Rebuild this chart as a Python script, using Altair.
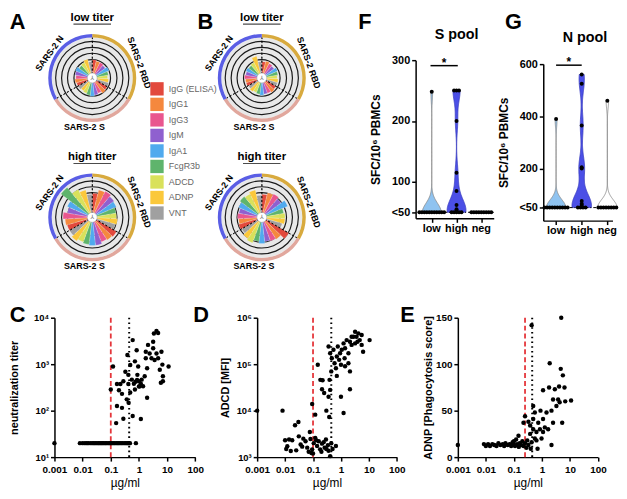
import altair as alt
import pandas as pd

FONT = "Liberation Sans"

# ---------------- A / B : radial plots ----------------
measures = ["IgG (ELISA)", "IgG1", "IgG3", "IgM", "IgA1", "FcgR3b", "ADCD", "ADNP", "VNT"]
measure_colors = ["#e2493d", "#f5883e", "#e9568e", "#8f60cf", "#50aaee",
                  "#5fb46c", "#d9e15b", "#fbc83b", "#a0a0a0"]
antigens = ["SARS-2 RBD", "SARS-2 S", "SARS-2 N"]
antigen_colors = ["#d8aa3e", "#e1a79d", "#5a5ee5"]
panels = ["A", "B"]
titers = ["low", "high"]
titer_titles = ["low titer", "high titer"]

# bar lengths per sector (RBD x9, S x9, N x9), legend order inside each antigen
roseA_low = [14, 13, 13, 12, 14, 12, 11, 12, 13,
             13, 14, 12, 13, 14, 13, 12, 11, 12,
             12, 13, 12, 13, 14, 12, 13, 15, 12]
roseA_high = [20, 24, 25, 23, 22, 20, 20, 21, 20,
              24, 23, 22, 24, 24, 23, 22, 24, 22,
              22, 23, 25, 21, 23, 35, 27, 24, 19]
roseB_low = [12, 13, 12, 11, 13, 12, 11, 12, 12,
             12, 13, 12, 12, 13, 12, 11, 12, 11,
             12, 12, 13, 12, 13, 12, 13, 18, 12]
roseB_high = [19, 21, 22, 20, 24, 18, 19, 19, 17,
              27, 22, 21, 20, 22, 20, 23, 21, 19,
              20, 19, 20, 19, 21, 23, 22, 24, 18]

# ---------------- F / G : ELISpot ----------------
pool_groups = ["low", "high", "neg"]
F_low = [248, 50, 50, 50, 50, 50, 50, 50, 50, 50, 50, 50]
F_high = [250, 250, 250, 200, 115, 85, 62, 55, 52, 50, 50, 50, 50, 50]
F_neg = [50, 50, 50, 50, 50, 50, 50, 50, 50]
G_low = [390, 50, 50, 50, 50, 50, 50, 50, 50, 50, 50]
G_high = [560, 525, 365, 205, 200, 75, 65, 60, 50, 50, 50, 50]
G_neg = [460, 50, 50, 50, 50, 50, 50, 50, 50]

# ---------------- C / D / E : scatter ----------------
C_floor_x = [0.001, 0.008, 0.01, 0.012, 0.014, 0.016, 0.019, 0.022, 0.025, 0.028, 0.032,
             0.036, 0.04, 0.045, 0.05, 0.056, 0.063, 0.07, 0.08, 0.09, 0.1, 0.11, 0.125,
             0.14, 0.16, 0.18, 0.2, 0.23, 0.26, 0.3, 0.34, 0.38, 0.42, 0.48, 0.78]
C_floor_y = 20
C_cloud = [(0.12, 890), (0.1, 285), (0.166, 375), (0.22, 375), (0.28, 430), (0.195, 275),
           (0.25, 230), (0.166, 126), (0.25, 115), (0.155, 54), (0.28, 67), (0.33, 690),
           (0.39, 1580), (0.42, 375), (0.37, 175), (0.43, 148), (0.49, 245), (0.56, 465),
           (0.6, 3300), (0.72, 1150), (0.72, 285), (0.6, 77), (0.83, 2000), (0.94, 890),
           (0.88, 590), (1.0, 430), (1.07, 335), (1.25, 465), (1.4, 335), (1.17, 66),
           (1.6, 550), (1.75, 1340), (1.95, 815), (2.1, 2600), (1.75, 1860), (2.4, 1700),
           (2.8, 1340), (1.95, 190), (3.2, 2200), (3.6, 1230), (3.4, 4570), (4.2, 5200),
           (4.8, 4700), (3.2, 3040), (4.2, 1700), (4.8, 1340), (5.5, 760), (6.3, 1860),
           (6.8, 980), (7.1, 550), (6.0, 400), (7.1, 430), (11.3, 890), (0.66, 380),
           (0.76, 420), (0.86, 460), (1.0, 330), (1.17, 380), (0.42, 590), (0.49, 960)]
D_pts = [(0.001, 10000), (0.0081, 10000), (0.0227, 4850), (0.03, 5700), (0.077, 3470),
         (0.0139, 2400), (0.012, 1720), (0.016, 1350), (0.018, 2300), (0.031, 2800),
         (0.036, 1870), (0.041, 1680), (0.054, 2200), (0.062, 1600), (0.081, 2450),
         (0.093, 1470), (0.106, 2000), (0.088, 1230), (0.12, 2600), (0.14, 1730),
         (0.16, 2200), (0.18, 1470), (0.21, 1950), (0.26, 1600), (0.29, 2400), (0.34, 1800),
         (0.41, 1050), (0.66, 1730), (0.36, 1370), (0.01, 2300), (0.011, 1500), (0.025, 1400),
         (0.045, 2500), (0.07, 1300), (0.1, 1200), (0.13, 2300), (0.2, 1300), (0.24, 2100),
         (0.3, 1500), (0.45, 2000), (0.5, 1500),
         (0.093, 13900), (0.148, 97000), (0.12, 8200), (0.183, 46000), (0.22, 45000),
         (0.21, 29000), (0.25, 24000), (0.3, 10000), (0.39, 46000), (0.41, 28000),
         (0.36, 20000), (0.45, 70000), (0.71, 56000), (1.0, 20000), (1.24, 8900),
         (2.1, 70000), (2.1, 29000), (0.38, 7300),
         (0.36, 240000), (0.41, 172000), (0.47, 134000), (0.54, 204000), (0.59, 105000),
         (0.66, 82000), (0.71, 146000), (0.77, 240000), (0.86, 124000), (0.93, 172000),
         (1.0, 97000), (1.07, 204000), (1.24, 280000), (1.35, 134000), (1.4, 220000),
         (1.6, 330000), (1.85, 172000), (2.1, 305000), (2.4, 260000), (2.8, 390000),
         (3.2, 500000), (3.6, 390000), (3.9, 305000), (4.2, 460000), (4.7, 330000),
         (5.5, 260000), (6.2, 186000), (5.5, 425000), (10.6, 330000), (1.4, 90000),
         (1.85, 105000), (2.4, 390000), (3.2, 280000)]
E_pts = [(0.001, 13), (0.0085, 14), (0.01, 12), (0.012, 14), (0.014, 12), (0.017, 14),
         (0.02, 13), (0.024, 12), (0.028, 15), (0.033, 13), (0.04, 14), (0.045, 12),
         (0.05, 15), (0.06, 13), (0.07, 14), (0.08, 12), (0.09, 16), (0.1, 13), (0.1, 17),
         (0.11, 12), (0.12, 19), (0.13, 14), (0.146, 23), (0.15, 11), (0.16, 15),
         (0.18, 13), (0.2, 17), (0.22, 37), (0.22, 12), (0.25, 44), (0.25, 15), (0.28, 10),
         (0.3, 18), (0.33, 38), (0.33, 13), (0.38, 34), (0.38, 25), (0.4, 9), (0.43, 142),
         (0.43, 16), (0.49, 55), (0.49, 41), (0.49, 30), (0.56, 48), (0.56, 20), (0.64, 27),
         (0.64, 18), (0.7, 9), (0.74, 37), (0.85, 30), (0.89, 50), (0.97, 20), (1.1, 41),
         (1.1, 72), (1.1, 27), (1.27, 32), (1.46, 48), (1.67, 30), (1.8, 75), (1.9, 101),
         (2.2, 50), (2.2, 13), (2.5, 37), (2.5, 62), (2.9, 73), (3.3, 55), (3.8, 62),
         (4.1, 76), (4.3, 59), (4.7, 95), (4.9, 150), (5.3, 37), (5.6, 88), (6.4, 75),
         (6.8, 60), (11.0, 61)]

# ======================================================================
one = pd.DataFrame({"k": [0]})
COL_W = [204.4, 202.6, 156.4]   # grid column widths shared by both rows

# ---------- radial view ----------
xs_R = alt.Scale(type="point", domain=panels, range=[38.2, 209.7], padding=0)
ys_R = alt.Scale(type="point", domain=titers, range=[18, 159], padding=0)
ts_R = alt.Scale(type="linear", domain=[0, 27], range=[0, 6.283185307179586], zero=False, nice=False)
rs_R = alt.Scale(type="linear", domain=[0, 40], range=[4.5, 44.5], zero=False, nice=False)


def rpos():
    return {"x": alt.X("panel:N", scale=xs_R, axis=None),
            "y": alt.Y("titer:N", scale=ys_R, axis=None)}


def rth(f0, f1):
    return {"theta": alt.Theta(f0, type="quantitative", scale=ts_R, stack=None),
            "theta2": alt.Theta2(f1)}


rose_sets = {("A", "low"): roseA_low, ("A", "high"): roseA_high,
             ("B", "low"): roseB_low, ("B", "high"): roseB_high}
bar_rows = []
for (p, t), vals in rose_sets.items():
    for k, v in enumerate(vals):
        bar_rows.append({"panel": p, "titer": t, "measure": measures[k % 9],
                         "antigen": antigens[k // 9], "t0": k, "t1": k + 1, "v": v})
bars_df = pd.DataFrame(bar_rows)

frame_df = pd.DataFrame([{"panel": p, "titer": t, "f0": 0, "f1": 27, "ttl": tt}
                         for p in panels for t, tt in zip(titers, titer_titles)])
bound_df = pd.DataFrame([{"panel": p, "titer": t, "b0": ai * 9}
                         for p in panels for t in titers for ai in range(3)])

layers = []
layers.append(alt.Chart(frame_df).mark_arc(radius=41, radius2=0, color="#e8e8e8")
              .encode(**rpos(), **rth("f0", "f1")))
for r in [18.5, 25, 31, 37]:
    layers.append(alt.Chart(frame_df).mark_arc(radius=r + 0.6, radius2=r - 0.6, color="#1a1a1a")
                  .encode(**rpos(), **rth("f0", "f1")))
legend = alt.Legend(orient="none", legendX=96.7, legendY=22, title=None, symbolType="square",
                    symbolSize=182, symbolStrokeWidth=0, symbolOpacity=1, labelFont=FONT,
                    labelFontSize=9, labelColor="#666666", labelOffset=5, rowPadding=1.7, padding=0)
layers.append(alt.Chart(bars_df).mark_arc(radius2=4.5, stroke="white", strokeWidth=0.2)
              .encode(**rpos(), **rth("t0", "t1"),
                      radius=alt.Radius("v:Q", scale=rs_R),
                      color=alt.Color("measure:N", scale=alt.Scale(domain=measures, range=measure_colors),
                                      legend=legend)))
layers.append(alt.Chart(bound_df).transform_calculate(b1="datum.b0 + 0.03")
              .mark_arc(radius=41, radius2=4.5, filled=False, stroke="black", strokeWidth=0.8,
                        strokeDash=[2, 2])
              .encode(**rpos(), **rth("b0", "b1")))
for ai, (ag, col) in enumerate(zip(antigens, antigen_colors)):
    seg = pd.DataFrame([{"panel": p, "titer": t, "s0": ai * 9, "s1": ai * 9 + 9}
                        for p in panels for t in titers])
    layers.append(alt.Chart(seg).mark_arc(radius=44.5, radius2=41, color=col)
                  .encode(**rpos(), **rth("s0", "s1")))
layers.append(alt.Chart(frame_df).mark_arc(radius=5, radius2=0, color="white", stroke="#999999",
                                           strokeWidth=0.5)
              .encode(**rpos(), **rth("f0", "f1")))
layers.append(alt.Chart(frame_df).mark_text(text="⅄", font="DejaVu Sans", fontSize=6, color="#666666")
              .encode(**rpos()))
label_style = [(0.21, 70), (0.16, 0), (0.0, 306)]
for ai, (ag, (toff, ang)) in enumerate(zip(antigens, label_style)):
    lab = pd.DataFrame([{"panel": p, "titer": t, "lt": ai * 9 + 4.5, "lab": ag}
                        for p in panels for t in titers])
    layers.append(alt.Chart(lab).mark_text(radius=50, angle=ang, thetaOffset=toff, fontSize=9,
                                           fontWeight="bold", font=FONT, color="black")
                  .encode(**rpos(), theta=alt.Theta("lt:Q", scale=ts_R, stack=None),
                          text=alt.Text("lab:N")))
layers.append(alt.Chart(frame_df).mark_text(fontSize=11.5, fontWeight="bold", font=FONT, dy=-60.7,
                                            color="black")
              .encode(**rpos(), text=alt.Text("ttl:N")))
layers.append(alt.Chart(frame_df).mark_tick(orient="horizontal", size=38, thickness=1.2,
                                            color="black", yOffset=-54.5)
              .encode(**rpos()))
for p, ddx in [("A", -83.5), ("B", -65)]:
    layers.append(alt.Chart(one).mark_text(text=p, align="left", baseline="top", fontSize=22,
                                           fontWeight="bold", font=FONT, dx=ddx, dy=-67, color="black")
                  .encode(x=alt.XDatum(p, type="nominal", scale=xs_R, axis=None),
                          y=alt.YDatum("low", type="nominal", scale=ys_R, axis=None)))
rose = alt.layer(*layers).properties(width=COL_W[0], height=200)


# ---------- F / G ----------
def pool_view(vals, ydom, yr, yticks, xdom, x0, xw, width, bws, fills, strokes, sig, title,
              title_x, title_dy, letter, letter_dx, letter_dy, tpad, line_x0, lab_y):
    df = pd.DataFrame([{"grp": g, "val": v} for g, vs in zip(pool_groups, vals) for v in vs])
    grp_df = pd.DataFrame({"grp": pool_groups})
    xs = alt.Scale(domain=xdom, range=[x0, x0 + xw], nice=False, zero=False)
    ys = alt.Scale(domain=ydom, range=yr, nice=False, zero=False)
    xax = alt.Axis(values=[0, 1, 2], labels=False, title=None, offset=yr[0] - 200)
    yax = alt.Axis(values=yticks, labelExpr="datum.value == 50 ? '<50' : datum.label",
                   labelFontSize=11, title="SFC/10⁶ PBMCs", titleFontSize=12,
                   titleFontWeight="bold", titlePadding=tpad, offset=-x0)

    def XF(f):
        return alt.X(f, type="quantitative", scale=xs, axis=xax)

    def YF(f):
        return alt.Y(f, type="quantitative", scale=ys, axis=yax)

    def XD(v):
        return alt.XDatum(v, type="quantitative", scale=xs, axis=xax)

    def YD(v):
        return alt.YDatum(v, type="quantitative", scale=ys, axis=yax)

    ls = []
    for i, (g, vs) in enumerate(zip(pool_groups, vals)):
        if max(vs) == min(vs):
            continue
        ls.append(alt.Chart(df).transform_filter(alt.datum.grp == g)
                  .transform_density("val", as_=["val", "dens"], bandwidth=bws[i],
                                     extent=[min(vs), max(vs)], steps=150)
                  .transform_joinaggregate(maxd="max(dens)")
                  .transform_calculate(xl=f"{i} - 0.38 * datum.dens / datum.maxd",
                                       xr=f"{i} + 0.38 * datum.dens / datum.maxd")
                  .mark_area(orient="horizontal", fill=fills[i], stroke=strokes[i], strokeWidth=0.8,
                             opacity=1, fillOpacity=1)
                  .encode(y=YF("val"), x=XF("xl"), x2=alt.X2("xr")))
    ls.append(alt.Chart(one).mark_rule(color="black", strokeWidth=1, strokeDash=[3, 2, 1, 2])
              .encode(x=XD(line_x0), x2=alt.X2Datum(xdom[1]), y=YD(50)))
    ls.append(alt.Chart(df)
              .transform_joinaggregate(cnt="count()", groupby=["grp", "val"])
              .transform_window(rn="row_number()", groupby=["grp", "val"])
              .transform_calculate(xp="indexof(['low', 'high', 'neg'], datum.grp)"
                                      " + (datum.rn - (datum.cnt + 1) / 2) * 0.1")
              .mark_circle(size=16, color="black", opacity=1)
              .encode(x=XF("xp"), y=YF("val")))
    # category labels centred under each tick
    ls.append(alt.Chart(grp_df)
              .transform_calculate(gi="indexof(['low', 'high', 'neg'], datum.grp)")
              .mark_text(fontSize=11, fontWeight="bold", font=FONT, color="black")
              .encode(x=XF("gi"), y=YD(lab_y), text=alt.Text("grp:N")))
    ls.append(alt.Chart(one).mark_rule(color="black", strokeWidth=1.5)
              .encode(x=XD(sig[0]), x2=alt.X2Datum(sig[1]), y=YD(sig[2])))
    ls.append(alt.Chart(one).mark_text(text="*", fontSize=12, fontWeight="bold", font=FONT, dy=-3,
                                       color="black")
              .encode(x=XD((sig[0] + sig[1]) / 2), y=YD(sig[2])))
    ls.append(alt.Chart(one).mark_text(text=title, fontSize=14.5, fontWeight="bold", font=FONT,
                                       dy=title_dy, color="black")
              .encode(x=XD(title_x), y=YD(ydom[1])))
    ls.append(alt.Chart(one).mark_text(text=letter, align="left", baseline="top", fontSize=22,
                                       fontWeight="bold", font=FONT, dx=letter_dx, dy=letter_dy,
                                       color="black")
              .encode(x=XD(xdom[0]), y=YD(ydom[1])))
    return alt.layer(*ls).properties(width=width, height=200)


light_blue = "#8fc3f0"
deep_blue = "#4b4fe6"
fchart = pool_view([F_low, F_high, F_neg], [40, 300], [160, 0], [50, 100, 200, 300],
                   [-0.65, 2.5], 160.3, 79, COL_W[1], [15, 18, 15], [light_blue, deep_blue, "white"],
                   ["#888888", "#3a3ec0", "#888888"], (-0.05, 1.05, 291), "S pool", 1, -25,
                   "F", -58, -49, 9, -0.45, 22)
gchart = pool_view([G_low, G_high, G_neg], [0, 600], [162.3, 4], [50, 200, 400, 600],
                   [-0.5, 2.2], 86.4, 70, COL_W[2], [30, 45, 30], [light_blue, deep_blue, "white"],
                   ["#888888", "#3a3ec0", "#888888"], (0.0, 1.0, 596), "N pool", 1.13, -26,
                   "G", -38.7, -53, 9, -0.4, -40)


# ---------- C / D / E ----------
def scatter_view(pts, ylog, ydom, yticks, xw, width, ytitle, tpad, red_x, letter, letter_dx):
    df = pd.DataFrame(pts, columns=["conc", "resp"])
    xs = alt.Scale(type="log", domain=[0.001, 100], range=[0, xw], nice=False)
    if ylog:
        ys = alt.Scale(type="log", domain=ydom, nice=False)
        yax = alt.Axis(values=yticks, labelFontSize=9.5, labelPadding=2, labelFlush=False,
                       labelExpr="'10' + ['⁰','¹','²','³','⁴','⁵','⁶'][round(log(datum.value) / LN10)]",
                       title=ytitle, titleFontSize=11, titleFontWeight="bold", titlePadding=tpad)
    else:
        ys = alt.Scale(type="linear", domain=ydom, nice=False, zero=False)
        yax = alt.Axis(values=yticks, labelFontSize=10, labelPadding=2, labelFlush=False,
                       title=ytitle, titleFontSize=11, titleFontWeight="bold", titlePadding=tpad)
    xax = alt.Axis(values=[0.001, 0.01, 0.1, 1, 10, 100], labelFontSize=10, labelPadding=4,
                   labelFlush=False,
                   labelExpr="datum.value >= 1 ? format(datum.value, 'd') : format(datum.value, '.3~f')",
                   title="µg/ml", titleFontSize=12, titleFontWeight="normal", titlePadding=3)

    def XD(v):
        return alt.XDatum(v, type="quantitative", scale=xs, axis=xax)

    def YD(v):
        return alt.YDatum(v, type="quantitative", scale=ys, axis=yax)

    ls = []
    ls.append(alt.Chart(one).mark_rule(color="#e5363b", strokeWidth=1.8, strokeDash=[5, 3])
              .encode(x=XD(red_x)))
    ls.append(alt.Chart(one).mark_rule(color="black", strokeWidth=2, strokeDash=[1.6, 3.2])
              .encode(x=XD(0.45)))
    ls.append(alt.Chart(df).mark_circle(size=20, color="black", opacity=1)
              .encode(x=alt.X("conc:Q", scale=xs, axis=xax), y=alt.Y("resp:Q", scale=ys, axis=yax)))
    ls.append(alt.Chart(one).mark_text(text=letter, align="left", baseline="top", fontSize=22,
                                       fontWeight="bold", font=FONT, dx=letter_dx, dy=-12.5,
                                       color="black")
              .encode(x=XD(0.001), y=YD(ydom[1])))
    return alt.layer(*ls).properties(width=width, height=141)


C_pts = [(x, C_floor_y) for x in C_floor_x] + C_cloud
cchart = scatter_view(C_pts, True, [10, 10000], [10, 100, 1000, 10000], 142.4, COL_W[0],
                      "neutralization titer", 14, 0.1, "C", -45.3)
dchart = scatter_view(D_pts, True, [1000, 1000000], [1000, 10000, 100000, 1000000], 141.3, COL_W[1],
                      "ADCD [MFI]", 6, 0.1, "D", -64.7)
echart = scatter_view(E_pts, False, [0, 150], [0, 50, 100, 150], 141.7, COL_W[2],
                      "ADNP [Phagocytosis score]", 2, 0.25, "E", -58.3)

chart = alt.concat(rose, fchart, gchart, cchart, dchart, echart, columns=3,
                   bounds="flush", spacing={"row": 60.5, "column": 0}).properties(
    padding=0
).configure_view(strokeWidth=0).configure_axis(
    domainColor="black", domainWidth=1.5, tickColor="black", tickWidth=1.5, tickSize=4,
    labelColor="black", labelFont=FONT, labelFontWeight="bold", titleFont=FONT,
    titleColor="black", grid=False, labelFlush=False
)

chart.save("out.html", embed_options={"renderer": "svg", "actions": False})
